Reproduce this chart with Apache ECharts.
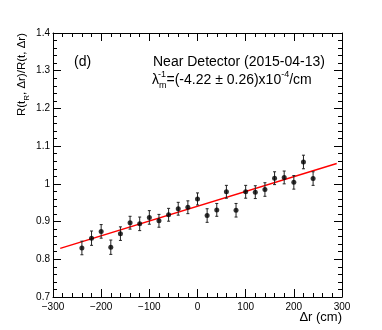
<!DOCTYPE html>
<html>
<head>
<meta charset="utf-8">
<script src="https://cdn.jsdelivr.net/npm/echarts@6/dist/echarts.min.js"></script>
<style>
  html, body { margin: 0; padding: 0; background: #fff; }
  #chart { width: 382px; height: 330px; }
</style>
</head>
<body>
<div id="chart"></div>
<script>
// Δr (cm) bins
const dr = [-240, -220, -200, -180, -160, -140, -120, -100, -80, -60, -40, -20, 0,
  20, 40, 60, 80, 100, 120, 140, 160, 180, 200, 220, 240];
// ratio R(tR,Δr)/R(t,Δr)
const ratio = [0.830, 0.856, 0.874, 0.832, 0.868, 0.897, 0.894, 0.911, 0.902, 0.918, 0.934, 0.938, 0.960,
  0.916, 0.931, 0.979, 0.930, 0.979, 0.978, 0.985, 1.015, 1.017, 1.004, 1.058, 1.014];
const err = [0.018, 0.019, 0.018, 0.019, 0.018, 0.017, 0.018, 0.018, 0.017, 0.017, 0.017, 0.017, 0.016,
  0.018, 0.017, 0.017, 0.018, 0.017, 0.017, 0.018, 0.017, 0.017, 0.018, 0.018, 0.018];
// fit line end points
const fitX = [-285, 289];
const fitY = [0.829, 1.054];

const xTicks = [-300, -200, -100, 0, 100, 200, 300];
const yTicks = [0.7, 0.8, 0.9, 1, 1.1, 1.2, 1.3, 1.4];

const font = "'Liberation Sans', Arial, Helvetica, sans-serif";
const chart = echarts.init(document.getElementById("chart"));

function axisCommon(showLabel) {
  return {
    type: "value",
    axisLine: { show: true, onZero: false, lineStyle: { color: "#000", width: 1 } },
    axisTick: { show: true, inside: true, length: 8, lineStyle: { color: "#000" } },
    minorTick: { show: true, splitNumber: 5, length: 4, lineStyle: { color: "#000" } },
    splitLine: { show: false },
    axisLabel: {
      show: showLabel,
      color: "#000",
      fontSize: 10,
      fontFamily: font,
    },
  };
}

const xBottom = Object.assign(axisCommon(true), {
  position: "bottom", min: xTicks[0], max: xTicks[xTicks.length - 1], interval: 100,
});
xBottom.axisLabel.margin = 5;
xBottom.axisLabel.formatter = (v) => String(v).replace("-", "\u2212");
const xTop = Object.assign(axisCommon(false), {
  position: "top", min: xTicks[0], max: xTicks[xTicks.length - 1], interval: 100,
});
const yLeft = Object.assign(axisCommon(true), {
  position: "left", min: yTicks[0], max: yTicks[yTicks.length - 1], interval: 0.1,
});
yLeft.axisLabel.margin = 3;
const yRight = Object.assign(axisCommon(false), {
  position: "right", min: yTicks[0], max: yTicks[yTicks.length - 1], interval: 0.1,
});

const points = dr.map((x, i) => [x, ratio[i]]);
const bars = dr.map((x, i) => [x, ratio[i] - err[i], ratio[i] + err[i]]);

const option = {
  animation: false,
  backgroundColor: "#fff",
  grid: { left: 53, right: 40, top: 33, bottom: 33 },
  xAxis: [xBottom, xTop],
  yAxis: [yLeft, yRight],
  series: [
    {
      type: "line",
      data: fitX.map((x, i) => [x, fitY[i]]),
      symbol: "none",
      lineStyle: { color: "#ff0000", width: 1.5 },
      z: 3,
    },
    {
      type: "custom",
      data: bars,
      renderItem: (params, api) => {
        const lo = api.coord([api.value(0), api.value(1)]);
        const hi = api.coord([api.value(0), api.value(2)]);
        const c = 1.5;
        const st = { stroke: "#222", lineWidth: 1 };
        return {
          type: "group",
          children: [
            { type: "line", shape: { x1: lo[0], y1: lo[1], x2: hi[0], y2: hi[1] }, style: st },
            { type: "line", shape: { x1: lo[0] - c, y1: lo[1], x2: lo[0] + c, y2: lo[1] }, style: st },
            { type: "line", shape: { x1: hi[0] - c, y1: hi[1], x2: hi[0] + c, y2: hi[1] }, style: st },
          ],
        };
      },
      z: 4,
    },
    {
      type: "scatter",
      data: points,
      symbol: "circle",
      symbolSize: 5,
      itemStyle: { color: "#000" },
      z: 5,
    },
  ],
  graphic: [
    {
      type: "text", x: 22, y: 33, rotation: Math.PI / 2,
      style: {
        text: "R(t{s|R}, \u0394r)/R(t, \u0394r)",
        font: "11.5px " + font, fill: "#000",
        align: "right", verticalAlign: "middle",
        rich: {
          s: { fontSize: 8, fontFamily: font, verticalAlign: "bottom", lineHeight: 18 },
        },
        lineHeight: 18,
      },
    },
    {
      type: "text", x: 342, y: 317,
      style: { text: "\u0394r (cm)", font: "13px " + font, fill: "#000", align: "right", verticalAlign: "middle" },
    },
    {
      type: "text", x: 74, y: 62,
      style: { text: "(d)", font: "14px " + font, fill: "#000", align: "left", verticalAlign: "middle" },
    },
    {
      type: "text", x: 153, y: 62,
      style: { text: "Near Detector (2015-04-13)", font: "14px " + font, fill: "#000", align: "left", verticalAlign: "middle" },
    },
    {
      type: "text", x: 152, y: 80,
      style: {
        text: "\u03bb{s|m}=(-4.22 \u00b1 0.26)x10{p|-4}/cm",
        font: "14px " + font, fill: "#000", align: "left", verticalAlign: "middle",
        lineHeight: 20,
        rich: {
          s: { fontSize: 9, fontFamily: font, verticalAlign: "bottom", lineHeight: 20 },
          p: { fontSize: 9, fontFamily: font, verticalAlign: "top", lineHeight: 20 },
        },
      },
    },
    {
      type: "text", x: 158, y: 75,
      style: { text: "-1", font: "9px " + font, fill: "#000", align: "left", verticalAlign: "middle" },
    },
  ],
};

chart.setOption(option);
</script>
</body>
</html>
